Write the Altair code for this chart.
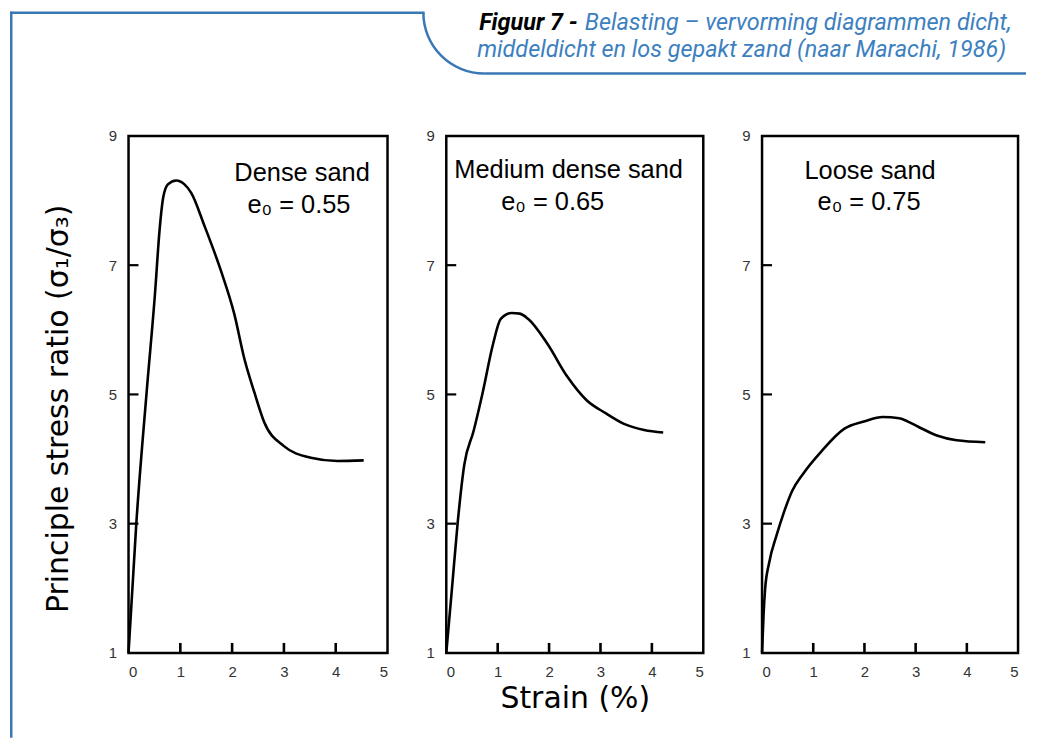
import math
import altair as alt
import pandas as pd

# ---------------- data ----------------
dense_strain = [0, 0.15, 0.35, 0.51, 0.60, 0.67, 0.76, 0.92, 1.08, 1.21, 1.47, 1.79, 2.04, 2.24, 2.43, 2.62, 3.0, 3.52, 4.03, 4.54]
dense_ratio = [1, 3.0, 5.04, 6.55, 7.55, 8.05, 8.25, 8.31, 8.25, 8.12, 7.6, 6.9, 6.25, 5.54, 5.03, 4.57, 4.2, 4.02, 3.97, 3.98]

medium_strain = [0, 0.11, 0.22, 0.35, 0.53, 0.70, 0.91, 1.06, 1.27, 1.43, 1.59, 1.97, 2.35, 2.73, 3.1, 3.47, 3.85, 4.22]
medium_ratio = [1, 1.99, 3.0, 3.91, 4.43, 5.0, 5.78, 6.17, 6.26, 6.25, 6.17, 5.78, 5.28, 4.91, 4.71, 4.54, 4.45, 4.41]

loose_strain = [0, 0.03, 0.06, 0.14, 0.28, 0.42, 0.59, 0.80, 1.16, 1.61, 1.99, 2.36, 2.68, 2.85, 3.05, 3.43, 3.8, 4.36]
loose_ratio = [1, 1.6, 1.99, 2.40, 2.81, 3.16, 3.51, 3.77, 4.12, 4.47, 4.58, 4.65, 4.63, 4.58, 4.5, 4.36, 4.29, 4.26]

panel_names = ["Dense sand", "Medium dense sand", "Loose sand"]
panel_e0 = ["e\u2080 = 0.55", "e\u2080 = 0.65", "e\u2080 = 0.75"]
name_pos_x = [3.35, 2.38, 2.11]
name_pos_y = [8.42, 8.48, 8.46]
e0_pos_x = [3.29, 2.07, 2.09]
e0_pos_y = [7.93, 7.97, 7.97]

x_label_values = [0, 1, 2, 3, 4, 5]
y_label_values = [1, 3, 5, 7, 9]
x_inner_ticks = [1, 2, 3, 4]
y_inner_ticks = [3, 5, 7]

y_title = "Principle stress ratio (\u03c3\u2081/\u03c3\u2083)"
x_title = "Strain (%)"
caption_lead = "Figuur 7 -"
caption_line1 = "Belasting \u2013 vervorming diagrammen dicht,"
caption_line2 = "middeldicht en los gepakt zand (naar Marachi, 1986)"

# ---------------- style ----------------
BLUE_LINE = "#3a78b5"
BLUE_TEXT = "#3d80c0"
TICK_COLOR = "black"
PANEL_H = 519
PANEL_W = [260, 258, 257]
FONT = "Liberation Sans"
TITLE_FONT = "DejaVu Sans"
CAP_SIZE = 23.5


def panel(i, strain, ratio, show_y_title, show_x_title, extra_layers=()):
    xs = alt.Scale(domain=[0, 5], nice=False, zero=False)
    ys = alt.Scale(domain=[1, 9], nice=False, zero=False)
    x_axis_kw = dict(values=x_label_values, labelPadding=12, format="d",
                     title=(x_title if show_x_title else None), titlePadding=4)
    y_axis_kw = dict(values=y_label_values, labelPadding=12, format="d",
                     title=(y_title if show_y_title else None), titlePadding=35,
                     titleY=PANEL_H / 2 + 14)
    df = pd.DataFrame({"strain": strain, "ratio": ratio})
    line = alt.Chart(df).mark_line(color="black", strokeWidth=2.6, interpolate="monotone").encode(
        x=alt.X("strain:Q", scale=xs, axis=alt.Axis(**x_axis_kw)),
        y=alt.Y("ratio:Q", scale=ys, axis=alt.Axis(**y_axis_kw)),
    )
    ann = pd.DataFrame({
        "strain": [name_pos_x[i], e0_pos_x[i]],
        "ratio": [name_pos_y[i], e0_pos_y[i]],
        "label": [panel_names[i], panel_e0[i]],
    })
    text = alt.Chart(ann).mark_text(font=FONT, fontSize=25.5, color="black", align="center",
                                    baseline="middle").encode(
        x=alt.X("strain:Q", scale=xs), y=alt.Y("ratio:Q", scale=ys), text="label:N")
    yt = alt.Chart(pd.DataFrame({"ratio": y_inner_ticks})).mark_rule(
        strokeWidth=2.2, color=TICK_COLOR).encode(
        y=alt.Y("ratio:Q", scale=ys), x=alt.value(0), x2=alt.value(10))
    xt = alt.Chart(pd.DataFrame({"strain": x_inner_ticks})).mark_rule(
        strokeWidth=2.6, color=TICK_COLOR).encode(
        x=alt.X("strain:Q", scale=xs), y=alt.value(PANEL_H), y2=alt.value(PANEL_H - 10))
    layers = [line, text, yt, xt] + list(extra_layers)
    return alt.layer(*layers).properties(width=PANEL_W[i], height=PANEL_H)


# decorations (page frame + caption), placed relative to panel 1 origin
one = pd.DataFrame({"k": [0]})
rule_kw = dict(color=BLUE_LINE, strokeWidth=2.5, strokeCap="square")
left_line = alt.Chart(one).mark_rule(**rule_kw).encode(
    x=alt.value(-117.75), y=alt.value(-123.75), y2=alt.value(603))
top_line = alt.Chart(one).mark_rule(**rule_kw).encode(
    x=alt.value(-117.75), x2=alt.value(296), y=alt.value(-123.75))
corner = alt.Chart(one).mark_arc(theta=math.pi, theta2=1.5 * math.pi, innerRadius=59.75,
                                 outerRadius=62.25, color=BLUE_LINE).encode(
    x=alt.value(357), y=alt.value(-123.75))
under_line = alt.Chart(one).mark_rule(color=BLUE_LINE, strokeWidth=2.5).encode(
    x=alt.value(357), x2=alt.value(901), y=alt.value(-62.75))
cap_df = pd.DataFrame({"lead": [caption_lead], "l1": [caption_line1], "l2": [caption_line2]})
cap_lead = alt.Chart(cap_df).mark_text(font="Roboto", fontSize=CAP_SIZE, fontStyle="italic", fontWeight="bold",
                                       color="black", align="right", baseline="alphabetic").encode(
    x=alt.value(451), y=alt.value(-106.3), text="lead:N")
cap_l1 = alt.Chart(cap_df).mark_text(font="Roboto", fontSize=CAP_SIZE, fontStyle="italic",
                                     color=BLUE_TEXT, align="left", baseline="alphabetic").encode(
    x=alt.value(458), y=alt.value(-106.3), text="l1:N")
cap_l2 = alt.Chart(cap_df).mark_text(font="Roboto", fontSize=CAP_SIZE, fontStyle="italic",
                                     color=BLUE_TEXT, align="left", baseline="alphabetic").encode(
    x=alt.value(350), y=alt.value(-79.7), text="l2:N")

decor = [left_line, top_line, corner, under_line, cap_lead, cap_l1, cap_l2]

p1 = panel(0, dense_strain, dense_ratio, True, False, decor)
p2 = panel(1, medium_strain, medium_ratio, False, True)
p3 = panel(2, loose_strain, loose_ratio, False, False)

chart = alt.hconcat(p1, p2, p3, spacing=59, bounds="flush", padding=0,
                    background="white").configure_view(
    stroke="black", strokeWidth=2.5
).configure_axis(
    domain=False, ticks=False, grid=False,
    labelFont=FONT, labelFontSize=15, labelColor="#333333",
    titleFont=TITLE_FONT, titleFontSize=30, titleFontWeight="normal", titleColor="black",
)

chart.save("out.html", embed_options={"renderer": "svg", "actions": False})
